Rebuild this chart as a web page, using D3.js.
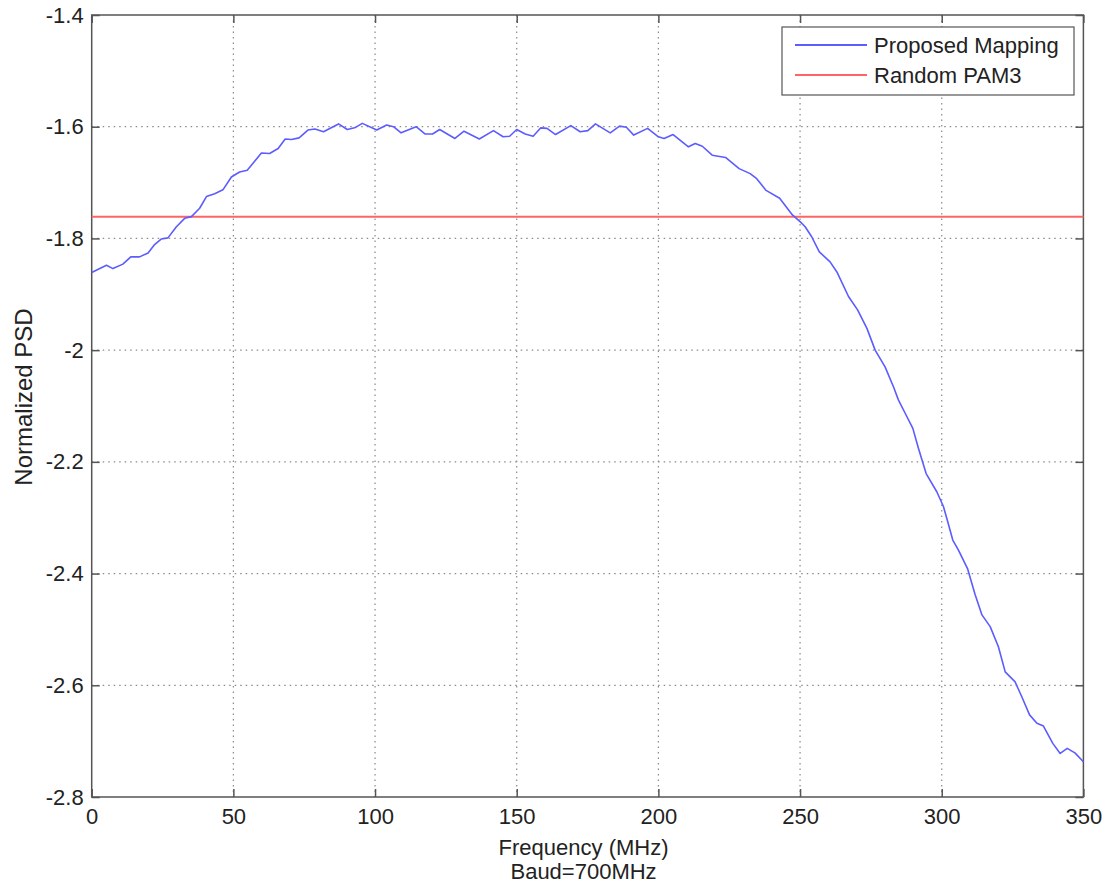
<!DOCTYPE html>
<html>
<head>
<meta charset="utf-8">
<script src="https://cdn.jsdelivr.net/npm/d3@7/dist/d3.min.js"></script>
<style>
  body { margin: 0; background: #fff; }
  text { font-family: "Liberation Sans", Arial, sans-serif; fill: #222; }
</style>
</head>
<body>
<div class="chart"></div>
<script>
// values
const freq = [0, 5.2, 7.5, 11.0, 13.8, 16.9, 19.9, 22.2, 24.6, 26.9, 29.9, 32.8, 35.2, 38.1,
    40.5, 43.4, 46.3, 49.3, 52.2, 54.9, 57.3, 59.9, 62.8, 65.8, 68.3, 70.5, 73.2, 76.3, 78.8,
    81.8, 87.1, 90.2, 92.8, 95.5, 100.6, 104.1, 106.5, 109.2, 114.5, 117.6, 120.3, 122.8,
    128.2, 131.4, 136.8, 141.8, 145.2, 147.5, 150.0, 153.0, 155.8, 158.5, 160.7, 163.7,
    169.1, 172.4, 175.1, 177.8, 183.0, 186.3, 188.7, 191.3, 196.2, 200.0, 202.0, 205.2,
    210.6, 213.0, 215.5, 219.0, 223.7, 228.5, 232.4, 234.7, 238.0, 242.8, 247.3, 250.0,
    251.8, 254.1, 256.8, 260.6, 263.0, 267.1, 270.3, 273.6, 276.5, 280.0, 283.0, 284.7,
    287.1, 289.8, 291.8, 294.5, 298.3, 300.6, 302.0, 303.9, 305.9, 309.1, 311.8, 314.2,
    317.1, 320.0, 322.4, 325.9, 328.3, 331.0, 333.6, 335.9, 339.2, 341.8, 344.3, 347.0, 350.0];
const proposed = [-1.861, -1.848, -1.854, -1.846, -1.833, -1.833, -1.826, -1.811, -1.801, -1.799,
    -1.779, -1.764, -1.761, -1.746, -1.725, -1.720, -1.713, -1.690, -1.681, -1.678, -1.663,
    -1.647, -1.648, -1.639, -1.622, -1.623, -1.620, -1.606, -1.604, -1.609, -1.595, -1.605,
    -1.602, -1.594, -1.606, -1.597, -1.600, -1.611, -1.600, -1.613, -1.613, -1.605, -1.621,
    -1.608, -1.622, -1.607, -1.618, -1.617, -1.605, -1.613, -1.617, -1.602, -1.603, -1.614,
    -1.598, -1.609, -1.607, -1.595, -1.611, -1.599, -1.601, -1.615, -1.603, -1.618, -1.621,
    -1.614, -1.636, -1.630, -1.635, -1.651, -1.655, -1.675, -1.684, -1.693, -1.714, -1.728,
    -1.758, -1.770, -1.779, -1.797, -1.824, -1.842, -1.860, -1.904, -1.928, -1.961, -2.000,
    -2.030, -2.066, -2.089, -2.113, -2.140, -2.176, -2.221, -2.254, -2.280, -2.305, -2.340,
    -2.358, -2.391, -2.438, -2.474, -2.495, -2.531, -2.576, -2.594, -2.621, -2.653, -2.668,
    -2.673, -2.704, -2.722, -2.713, -2.721, -2.737];
const randomPam3 = -1.761;
const xTicks = [0, 50, 100, 150, 200, 250, 300, 350];
const yTicks = [-1.4, -1.6, -1.8, -2, -2.2, -2.4, -2.6, -2.8];
const seriesNames = ["Proposed Mapping", "Random PAM3"];
const seriesColors = ["#5c5cff", "#ff6464"];

drawChart();

function drawChart() {
    const width = 1107, height = 885;
    const margin = {top: 15, right: 23.6, bottom: 88, left: 91.7};
    const w = width - margin.left - margin.right,
        h = height - margin.top - margin.bottom;
    const fontSize = "22px";

    const svg = d3.select(".chart").append("svg")
        .attr("width", width)
        .attr("height", height);

    const g = svg.append("g")
        .attr("transform", "translate(" + margin.left + "," + margin.top + ")");

    const x = d3.scaleLinear().domain([0, 350]).range([0, w]);
    const y = d3.scaleLinear().domain([-2.8, -1.4]).range([h, 0]);

    // dotted grid
    g.append("g").selectAll("line").data(xTicks.slice(1, -1)).enter().append("line")
        .attr("x1", d => x(d)).attr("x2", d => x(d))
        .attr("y1", 0).attr("y2", h)
        .attr("stroke", "#8a8a8a").attr("stroke-width", 1.2)
        .attr("stroke-dasharray", "1.5,4");
    g.append("g").selectAll("line").data(yTicks.slice(1, -1)).enter().append("line")
        .attr("x1", 0).attr("x2", w)
        .attr("y1", d => y(d)).attr("y2", d => y(d))
        .attr("stroke", "#8a8a8a").attr("stroke-width", 1.2)
        .attr("stroke-dasharray", "1.5,4");

    // axes (ticks inward, box on all sides)
    const axisStyle = sel => {
        sel.select(".domain").remove();
        sel.selectAll(".tick line").attr("stroke", "#555").attr("stroke-width", 1.5);
        sel.selectAll("text").style("font-size", fontSize).attr("fill", "#222");
    };
    g.append("g").attr("transform", "translate(0," + h + ")")
        .call(d3.axisBottom(x).tickValues(xTicks).tickSize(-8).tickPadding(11))
        .call(axisStyle);
    g.append("g")
        .call(d3.axisLeft(y).tickValues(yTicks).tickSize(-8).tickPadding(8)
            .tickFormat(d => String(d)))
        .call(axisStyle);
    g.append("g")
        .call(d3.axisTop(x).tickValues(xTicks).tickSize(-8).tickFormat(""))
        .call(axisStyle);
    g.append("g").attr("transform", "translate(" + w + ",0)")
        .call(d3.axisRight(y).tickValues(yTicks).tickSize(-8).tickFormat(""))
        .call(axisStyle);

    g.append("rect")
        .attr("width", w).attr("height", h)
        .attr("fill", "none").attr("stroke", "#555").attr("stroke-width", 1.5);

    // series
    const line = d3.line().x(d => x(d[0])).y(d => y(d[1]));
    g.append("path")
        .datum([[0, randomPam3], [350, randomPam3]])
        .attr("d", line)
        .attr("fill", "none").attr("stroke", seriesColors[1]).attr("stroke-width", 2);
    g.append("path")
        .datum(freq.map((f, i) => [f, proposed[i]]))
        .attr("d", line)
        .attr("fill", "none").attr("stroke", seriesColors[0]).attr("stroke-width", 1.6)
        .attr("stroke-linejoin", "round");

    // axis labels
    svg.append("text")
        .attr("x", margin.left + w / 2 - 4).attr("y", 855)
        .attr("text-anchor", "middle").style("font-size", fontSize)
        .text("Frequency (MHz)");
    svg.append("text")
        .attr("x", margin.left + w / 2 - 4).attr("y", 879)
        .attr("text-anchor", "middle").style("font-size", fontSize)
        .text("Baud=700MHz");
    svg.append("text")
        .attr("transform", "translate(32,397) rotate(-90)")
        .attr("text-anchor", "middle").style("font-size", "24px")
        .text("Normalized PSD");

    // legend
    const legend = svg.append("g").attr("transform", "translate(782,27)");
    legend.append("rect")
        .attr("width", 292).attr("height", 68)
        .attr("fill", "#fff").attr("stroke", "#555").attr("stroke-width", 1.2);
    seriesNames.forEach((name, i) => {
        const ly = 18 + i * 30;
        legend.append("line")
            .attr("x1", 13).attr("x2", 85).attr("y1", ly).attr("y2", ly)
            .attr("stroke", seriesColors[i]).attr("stroke-width", 2);
        legend.append("text")
            .attr("x", 92).attr("y", ly + 8)
            .style("font-size", fontSize)
            .text(name);
    });
}
</script>
</body>
</html>
